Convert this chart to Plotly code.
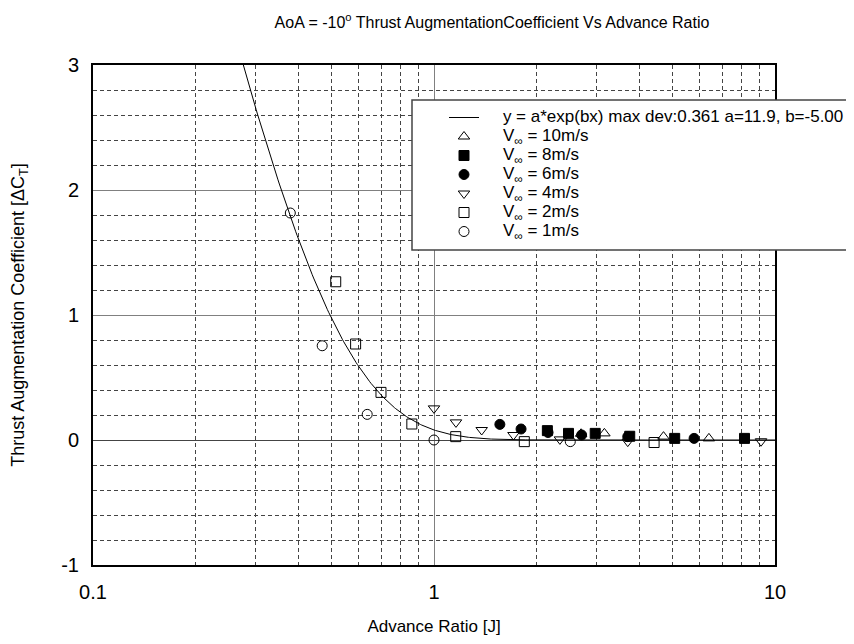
import plotly.graph_objects as go
import numpy as np

# Fit parameters (from legend)
fit_a = 11.9
fit_b = -5.00

# Series data: advance ratio J, thrust augmentation coefficient dCT
v10_J = [2.70, 3.16, 4.71, 6.40]
v10_C = [0.05, 0.053, 0.027, 0.013]

v8_J = [2.15, 2.48, 2.97, 3.75, 5.08, 8.14]
v8_C = [0.075, 0.053, 0.053, 0.03, 0.013, 0.013]

v6_J = [1.56, 1.80, 2.16, 2.71, 3.70, 5.79]
v6_C = [0.125, 0.088, 0.06, 0.04, 0.027, 0.013]

v4_J = [1.00, 1.16, 1.38, 1.71, 2.34, 3.70, 9.10]
v4_C = [0.253, 0.141, 0.08, 0.04, 0.005, -0.013, -0.01]

v2_J = [0.515, 0.589, 0.699, 0.861, 1.158, 1.84, 4.42]
v2_C = [1.266, 0.768, 0.381, 0.128, 0.027, -0.013, -0.02]

v1_J = [0.379, 0.470, 0.637, 1.00, 2.51]
v1_C = [1.816, 0.754, 0.205, 0.0, -0.013]

x_ticks = [0.1, 1, 10]
x_ticklabels = ["0.1", "1", "10"]
x_minor = [0.2, 0.3, 0.4, 0.5, 0.6, 0.7, 0.8, 0.9, 2, 3, 4, 5, 6, 7, 8, 9]
y_ticks = [-1, 0, 1, 2, 3]
y_ticklabels = ["-1", "0", "1", "2", "3"]

FONT = "Liberation Sans, Arial, sans-serif"
PAD = "\u00a0" * 4


def leg(txt):
    return '<span style="font-size:17px">' + PAD + txt + "</span>"


fit_x = np.logspace(np.log10(0.25), 1, 400)
fit_y = fit_a * np.exp(fit_b * fit_x)

fig = go.Figure()
fig.add_trace(go.Scatter(x=fit_x, y=fit_y, mode="lines",
                         line=dict(color="black", width=1),
                         name=leg("y = a*exp(bx) max dev:0.361 a=11.9, b=-5.00")))

series = [
    (v10_J, v10_C, "triangle-up-open", "10m/s"),
    (v8_J, v8_C, "square", "8m/s"),
    (v6_J, v6_C, "circle", "6m/s"),
    (v4_J, v4_C, "triangle-down-open", "4m/s"),
    (v2_J, v2_C, "square-open", "2m/s"),
    (v1_J, v1_C, "circle-open", "1m/s"),
]
for xs, ys, sym, lab in series:
    fig.add_trace(go.Scatter(
        x=xs, y=ys, mode="markers",
        marker=dict(symbol=sym, size=10, color="black",
                    line=dict(color="black", width=1)),
        name=leg("V<sub>∞</sub> = " + lab)))

# page body has an 8px margin; figure is sized so the plot lands where the reference has it
W, H = 846, 636
ML, MT, MR, MB = 85, 57, 79, 79
PW = W - ML - MR
PH = H - MT - MB

# legend box
fig.add_shape(type="rect", xref="paper", yref="paper",
              x0=(404 - ML) / PW, x1=1.3, y0=0.63, y1=0.93,
              fillcolor="white", line=dict(color="#444", width=1.5),
              layer="above")

fig.update_layout(
    width=W, height=H,
    margin=dict(l=ML, r=MR, t=MT, b=MB, autoexpand=False),
    paper_bgcolor="white", plot_bgcolor="white",
    font=dict(family=FONT, color="black", size=15),
    title=dict(text="AoA = -10<sup>o</sup> Thrust AugmentationCoefficient Vs Advance Ratio",
               x=484 / W, xanchor="center", xref="container", y=0.978, yanchor="middle",
               font=dict(size=16, family=FONT)),
    showlegend=True,
    legend=dict(x=(436 - ML) / PW, xanchor="left", y=(565 - 103) / 500, yanchor="top",
                bgcolor="rgba(0,0,0,0)", borderwidth=0, tracegroupgap=0,
                font=dict(size=12, family=FONT)),
    xaxis=dict(type="log", range=[-1, 1], tickvals=x_ticks, ticktext=x_ticklabels,
               showgrid=True, gridcolor="#808080", gridwidth=1,
               minor=dict(tickvals=x_minor, showgrid=True, gridcolor="#444",
                          griddash="4px,3px", gridwidth=1),
               showline=True, mirror=True, linecolor="black", linewidth=2,
               ticks="", tickfont=dict(size=20), ticklabelstandoff=8, automargin=False,
               title=dict(text="Advance Ratio [J]", font=dict(size=17), standoff=18)),
    yaxis=dict(range=[-1, 3], tickvals=y_ticks, ticktext=y_ticklabels,
               showgrid=True, gridcolor="#808080", gridwidth=1,
               minor=dict(dtick=0.2, showgrid=True, gridcolor="#444",
                          griddash="4px,3px", gridwidth=1),
               zeroline=True, zerolinecolor="#444", zerolinewidth=1,
               showline=True, mirror=True, linecolor="black", linewidth=2,
               ticks="", tickfont=dict(size=20), ticklabelstandoff=8, automargin=False,
               title=dict(text="Thrust Augmentation Coefficient [ΔC<sub>T</sub>]",
                          font=dict(size=18), standoff=34)),
)

fig.write_html("out.html")
